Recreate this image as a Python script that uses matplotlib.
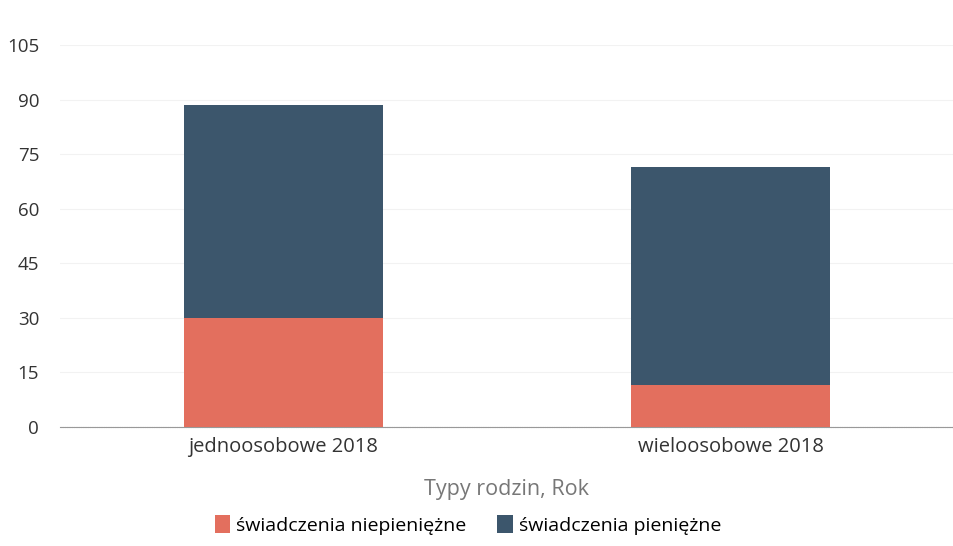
import matplotlib
matplotlib.use("Agg")
import matplotlib.pyplot as plt

categories = ["jednoosobowe 2018", "wieloosobowe 2018"]
niepieniezne = [30, 11.5]
pieniezne = [58.5, 60]
series_labels = ["świadczenia niepieniężne", "świadczenia pieniężne"]
y_ticks = [0, 15, 30, 45, 60, 75, 90, 105]

plt.rcParams["font.family"] = ["Open Sans", "DejaVu Sans"]

fig = plt.figure(figsize=(9.54, 5.46), dpi=100)
ax = fig.add_axes([60 / 954, 1 - 427 / 546, 894 / 954, 382 / 546])

x = list(range(len(categories)))
width = 0.447
red = "#e36f5e"
blue = "#3c566c"

ax.bar(x, niepieniezne, width, color=red, label=series_labels[0], zorder=3)
ax.bar(x, pieniezne, width, bottom=niepieniezne, color=blue, label=series_labels[1], zorder=3)

ax.set_xlim(-0.5, 1.5)
ax.set_ylim(0, 105)
ax.set_yticks(y_ticks)
ax.set_xticks(x)
ax.set_xticklabels(categories)
ax.tick_params(axis="both", length=0, colors="#333333")
ax.tick_params(axis="y", pad=15, labelsize=13.5)
ax.tick_params(axis="x", pad=7, labelsize=14.5)
ax.grid(axis="y", color="#f2f2f2", linewidth=0.8, zorder=0)

for side in ["top", "right", "left"]:
    ax.spines[side].set_visible(False)
ax.spines["bottom"].set_color("#999999")
ax.spines["bottom"].set_linewidth(0.8)
ax.spines["bottom"].set_linestyle((0, (1, 0.6)))

ax.set_xlabel("Typy rodzin, Rok", fontsize=15.5, color="#777777", labelpad=16)

handles, labels = ax.get_legend_handles_labels()
fig.legend(handles, labels, loc="center", bbox_to_anchor=(468 / 954, 1 - 525 / 546),
           ncol=2, frameon=False, fontsize=14, handlelength=0.8, handleheight=1.0,
           handletextpad=0.3, columnspacing=1.6)

fig.savefig("out.png", dpi=100)
